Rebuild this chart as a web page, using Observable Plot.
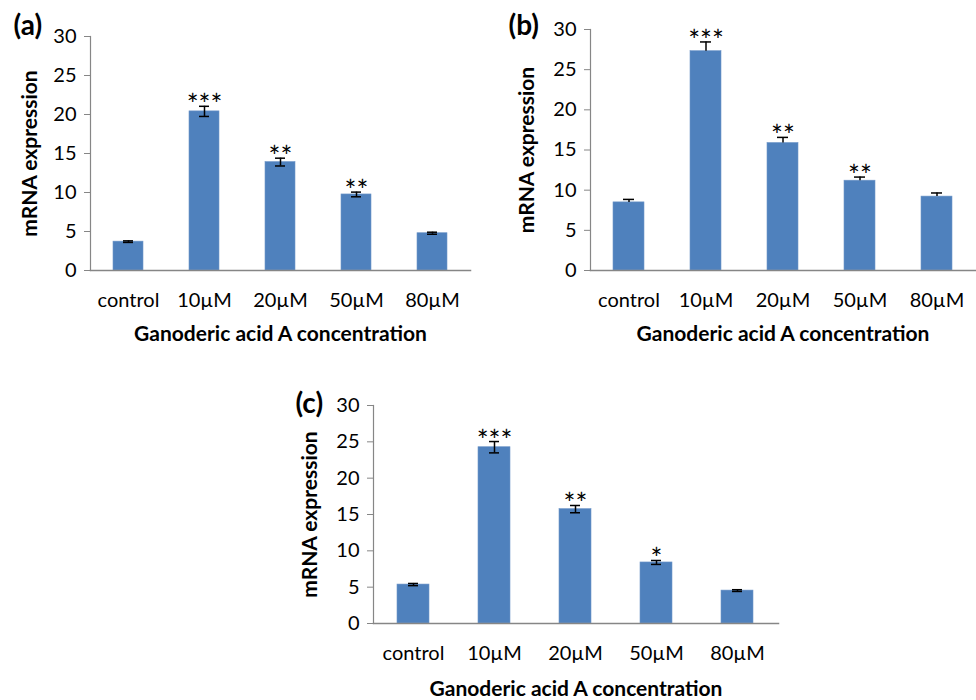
<!DOCTYPE html>
<html><head><meta charset="utf-8">
<script src="https://cdn.jsdelivr.net/npm/d3@7"></script>
<script src="https://cdn.jsdelivr.net/npm/@observablehq/plot@0.6"></script>
<style>
body{margin:0;background:#fff;}
#wrap{position:relative;width:976px;height:700px;overflow:hidden;background:#fff;}
.panel{position:absolute;}
</style></head><body><div id="wrap"></div>
<script>
const categories = ["control", "10µM", "20µM", "50µM", "80µM"];
const valuesA = [3.7, 20.4, 13.9, 9.75, 4.78];
const errorsA = [0.1, 0.65, 0.5, 0.3, 0.13];
const starsA = ["", "***", "**", "**", ""];
const valuesB = [8.48, 27.3, 15.87, 11.18, 9.2];
const errorsB = [0.37, 1.15, 0.7, 0.45, 0.45];
const starsB = ["", "***", "**", "**", ""];
const valuesC = [5.36, 24.26, 15.74, 8.4, 4.53];
const errorsC = [0.15, 0.78, 0.5, 0.27, 0.12];
const starsC = ["", "***", "**", "*", ""];
const yTicks = [0, 5, 10, 15, 20, 25, 30];
const panelLabels = ["(a)", "(b)", "(c)"];
const xTitle = "Ganoderic acid A concentration";
const yTitle = "mRNA expression";

const panels = [
  {label: panelLabels[0], values: valuesA, errors: errorsA, stars: starsA, oneSided: false,
   left: 0, top: 0, width: 480, height: 350, mL: 90, mT: 36, mB: 80, mR: 10, cap: 10, labDx: -77, labDy: -2, yDx: -60, xDy: 70},
  {label: panelLabels[1], values: valuesB, errors: errorsB, stars: starsB, oneSided: true,
   left: 490, top: 0, width: 486, height: 350, mL: 100, mT: 29, mB: 80, mR: 1, cap: 10, labDx: -82, labDy: 5, yDx: -63, xDy: 70},
  {label: panelLabels[2], values: valuesC, errors: errorsC, stars: starsC, oneSided: false,
   left: 280, top: 380, width: 500, height: 320, mL: 93, mT: 25, mB: 77, mR: 2, cap: 11, labDx: -78, labDy: 7, yDx: -63, xDy: 72}
];

const wrap = document.getElementById("wrap");
const axisGray = "#868686";
const barBlue = "#4f81bd";

for (const p of panels) {
  const rows = categories.map((c, i) => ({cat: c, v: p.values[i], e: p.errors[i], s: p.stars[i]}));
  const hi = d => d.v + d.e;
  const lo = d => p.oneSided ? d.v : d.v - d.e;
  const marks = [
    Plot.barY(rows, {x: "cat", y: "v", fill: barBlue, stroke: "#6f96c8", strokeWidth: 0.6}),
    Plot.ruleX(rows, {x: "cat", y1: lo, y2: hi, stroke: "black", strokeWidth: 1.5}),
    Plot.tickY(rows, {x: "cat", y: hi, insetLeft: p.cap, insetRight: p.cap, stroke: "black", strokeWidth: 1.5}),
  ];
  if (!p.oneSided) {
    marks.push(Plot.tickY(rows, {x: "cat", y: lo, insetLeft: p.cap, insetRight: p.cap, stroke: "black", strokeWidth: 1.5}));
  }
  marks.push(
    Plot.text(rows, {x: "cat", y: hi, text: "s", lineAnchor: "bottom", dy: 9, fontSize: 28, fill: "black"}),
    Plot.frame({anchor: "left", stroke: axisGray, strokeWidth: 1.2}),
    Plot.frame({anchor: "bottom", stroke: axisGray, strokeWidth: 1.5}),
    Plot.axisY({ticks: yTicks, tickSize: 6, tickPadding: 8, fontSize: 20, label: null, stroke: axisGray, fill: "black"}),
    Plot.axisX({tickSize: 0, tickPadding: 22, fontSize: 20, label: null, fill: "black"}),
    Plot.text([p.label], {frameAnchor: "top-left", dx: p.labDx, dy: p.labDy, textAnchor: "start", lineAnchor: "bottom", fontSize: 28, fontWeight: "bold", fill: "black"}),
    Plot.text([yTitle], {frameAnchor: "left", textAnchor: "middle", lineAnchor: "middle", dx: p.yDx, rotate: -90, fontSize: 21, fontWeight: "bold", fill: "black"}),
    Plot.text([xTitle], {frameAnchor: "bottom", textAnchor: "middle", dy: p.xDy, lineAnchor: "bottom", fontSize: 21, fontWeight: "bold", fill: "black"})
  );
  const chart = Plot.plot({
    width: p.width, height: p.height,
    marginLeft: p.mL, marginTop: p.mT, marginBottom: p.mB, marginRight: p.mR,
    style: {fontFamily: "Lato, sans-serif", background: "transparent", overflow: "visible"},
    x: {domain: categories, paddingInner: 0.6, paddingOuter: 0.3, axis: null},
    y: {domain: [0, 30], axis: null},
    marks
  });
  const div = document.createElement("div");
  div.className = "panel";
  div.style.left = p.left + "px";
  div.style.top = p.top + "px";
  div.appendChild(chart);
  wrap.appendChild(div);
}
</script></body></html>
